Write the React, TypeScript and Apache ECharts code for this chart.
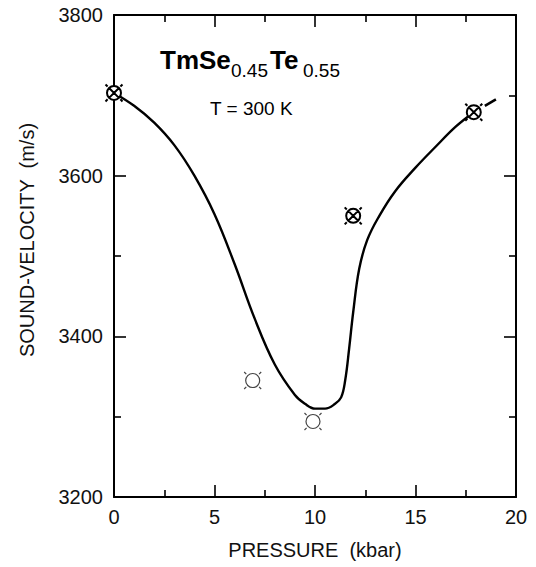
import React, { useEffect, useRef } from "react";
import * as echarts from "echarts";

// Measured (cross-circle) points
const crossX = [0, 11.9, 17.9];
const crossY = [3703, 3550, 3679];
// Open-circle points
const openX = [6.9, 9.9];
const openY = [3345, 3294];
// Guide curve through the data
const curveX = [0, 1, 2, 3, 4, 5, 6, 7, 8, 9, 9.5, 10, 10.5, 11, 11.3, 11.5, 11.7, 11.9, 12.2, 12.6, 13.2, 14, 15, 16, 17, 17.9];
const curveY = [3703, 3687, 3666, 3638, 3600, 3552, 3490, 3422, 3365, 3327, 3316, 3310, 3310, 3316, 3324, 3345, 3385, 3430, 3484, 3520, 3550, 3581, 3610, 3636, 3661, 3679];
// Dashed extrapolation beyond the last point
const dashX = [18.45, 19.0];
const dashY = [3687, 3695];
// Axis ticks
const xTicks = { min: 0, max: 20, step: 5 };
const yTicks = { min: 3200, max: 3800, step: 200 };

const FONT = "'Liberation Sans', Arial, Helvetica, sans-serif";

function symPath(withCross: boolean) {
  const r = 7;
  const d = r / Math.SQRT2;
  const a = 6.4, b = 8.5;
  let p = `M ${r} 0 A ${r} ${r} 0 1 1 ${-r} 0 A ${r} ${r} 0 1 1 ${r} 0 Z `;
  if (withCross) {
    p += `M ${-d} ${-d} L ${d} ${d} M ${d} ${-d} L ${-d} ${d} `;
  }
  p += `M ${a} ${a} L ${b} ${b} M ${-a} ${-a} L ${-b} ${-b} M ${a} ${-a} L ${b} ${-b} M ${-a} ${a} L ${-b} ${b}`;
  return "path://" + p;
}

export default function App() {
  const ref = useRef<HTMLDivElement>(null);
  useEffect(() => {
    if (!ref.current) return;
    const chart = echarts.init(ref.current, undefined, { renderer: "svg" });
    const axisCommon = {
      type: "value" as const,
      axisLine: { show: true, onZero: false, lineStyle: { color: "#000", width: 2 } },
      axisTick: { show: true, inside: true, length: 12, lineStyle: { color: "#000", width: 1.6 } },
      minorTick: { show: true, splitNumber: 2, length: 7, lineStyle: { color: "#000", width: 1.6 } },
      splitLine: { show: false },
      minorSplitLine: { show: false },
    };
    const fmt = (v: number) => String(v);
    const xLabel = { fontSize: 20, margin: 10, color: "#111", fontFamily: FONT, formatter: fmt };
    const yLabel = { fontSize: 20, margin: 11, color: "#111", fontFamily: FONT, formatter: fmt };
    chart.setOption({
      animation: false,
      backgroundColor: "#fff",
      grid: { left: 114, right: 20, top: 15, bottom: 70, containLabel: false },
      xAxis: [
        { ...axisCommon, min: xTicks.min, max: xTicks.max, interval: xTicks.step, position: "bottom", axisLabel: xLabel },
        { ...axisCommon, min: xTicks.min, max: xTicks.max, interval: xTicks.step, position: "top", axisLabel: { show: false } },
      ],
      yAxis: [
        { ...axisCommon, min: yTicks.min, max: yTicks.max, interval: yTicks.step, position: "left", axisLabel: yLabel },
        { ...axisCommon, min: yTicks.min, max: yTicks.max, interval: yTicks.step, position: "right", axisLabel: { show: false } },
      ],
      series: [
        {
          type: "line",
          data: curveX.map((x, i) => [x, curveY[i]]),
          smooth: 0.4,
          showSymbol: false,
          symbol: "none",
          lineStyle: { color: "#000", width: 2.4 },
          z: 2,
        },
        {
          type: "line",
          data: dashX.map((x, i) => [x, dashY[i]]),
          showSymbol: false,
          symbol: "none",
          lineStyle: { color: "#000", width: 2.6 },
          z: 2,
        },
        {
          type: "scatter",
          data: crossX.map((x, i) => [x, crossY[i]]),
          symbol: symPath(true),
          symbolSize: 17,
          itemStyle: { color: "#fff", borderColor: "#000", borderWidth: 2, opacity: 1 },
          z: 5,
        },
        {
          type: "scatter",
          data: openX.map((x, i) => [x, openY[i]]),
          symbol: symPath(false),
          symbolSize: 17,
          itemStyle: { color: "#fff", borderColor: "#444", borderWidth: 1.2, opacity: 1 },
          z: 5,
        },
      ],
      graphic: [
        { type: "text", x: 160, y: 60, style: { text: "TmSe", font: `bold 26px ${FONT}`, fill: "#000", verticalAlign: "middle", align: "left" } },
        { type: "text", x: 231, y: 70.5, style: { text: "0.45", font: `19px ${FONT}`, fill: "#000", verticalAlign: "middle", align: "left" } },
        { type: "text", x: 270, y: 60, style: { text: "Te", font: `bold 26px ${FONT}`, fill: "#000", verticalAlign: "middle", align: "left" } },
        { type: "text", x: 303, y: 70.5, style: { text: "0.55", font: `19px ${FONT}`, fill: "#000", verticalAlign: "middle", align: "left" } },
        { type: "text", x: 210, y: 108, style: { text: "T = 300 K", font: `19px ${FONT}`, fill: "#000", verticalAlign: "middle", align: "left" } },
        { type: "text", x: 315, y: 550, style: { text: "PRESSURE  (kbar)", font: `20px ${FONT}`, fill: "#111", verticalAlign: "middle", align: "center" } },
        { type: "text", x: 27, y: 240, rotation: Math.PI / 2, style: { text: "SOUND-VELOCITY  (m/s)", font: `20px ${FONT}`, fill: "#111", verticalAlign: "middle", align: "center" } },
      ],
    });
    return () => chart.dispose();
  }, []);
  return <div ref={ref} style={{ width: 536, height: 567, position: "absolute", left: 0, top: 0 }} />;
}
